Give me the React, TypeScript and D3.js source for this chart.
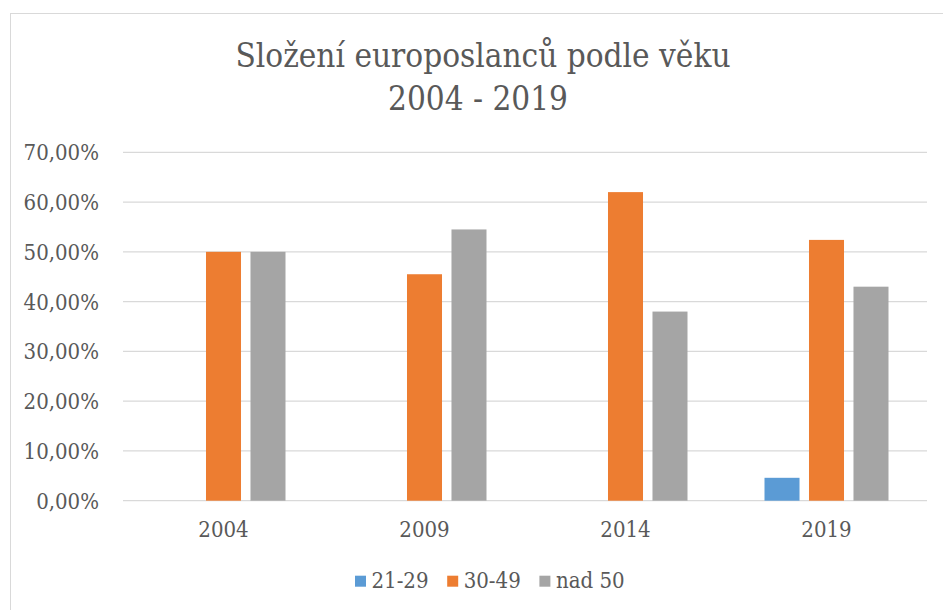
import React from "react";
import * as d3 from "d3";

const categories = ["2004", "2009", "2014", "2019"];
const seriesNames = ["21-29", "30-49", "nad 50"];
const s2129 = [0, 0, 0, 0.046];
const s3049 = [0.5, 0.455, 0.62, 0.524];
const sNad50 = [0.5, 0.545, 0.38, 0.43];
const yTicks = [0, 0.1, 0.2, 0.3, 0.4, 0.5, 0.6, 0.7];
const colors = ["#5B9BD5", "#ED7D31", "#A5A5A5"];

const W = 943;
const H = 610;
const FONT = "DejaVu Serif Condensed, DejaVu Serif";
const TXT = "#595959";

export default function App() {
  const seriesValues = [s2129, s3049, sNad50];
  const x0 = d3.scaleBand<string>().domain(categories).range([123, 927]).paddingInner(0).paddingOuter(0);
  const y = d3.scaleLinear().domain([0, 0.7]).range([500.7, 152.3]);
  const groupW = 124;
  const x1 = d3.scaleBand<string>().domain(seriesNames).range([0, groupW]).paddingInner(0.213).paddingOuter(0);
  const fmt = (v: number) => (v * 100).toFixed(2).replace(".", ",") + "%";
  const tStyle = { fontFamily: FONT, fontStretch: "condensed" } as React.CSSProperties;

  return (
    <svg width={W} height={H} style={{ position: "absolute", left: 0, top: 0, display: "block", background: "#fff" }}>
      <rect x={10.5} y={13.5} width={W + 20} height={H + 20} fill="#fff" stroke="#D9D9D9" strokeWidth={1} />
      <text x={483} y={67} textAnchor="middle" style={tStyle} fontSize={33} fill={TXT}>
        Složení europoslanců podle věku
      </text>
      <text x={478} y={110} textAnchor="middle" style={tStyle} fontSize={33} fill={TXT}>
        2004 - 2019
      </text>
      {yTicks.map((t) => (
        <g key={t}>
          <line x1={123} x2={927} y1={y(t)} y2={y(t)} stroke="#D9D9D9" strokeWidth={1.3} />
          <text x={99} y={y(t) + 8} textAnchor="end" style={tStyle} fontSize={22} fill={TXT}>
            {fmt(t)}
          </text>
        </g>
      ))}
      {categories.map((c, i) => {
        const cx = (x0(c) as number) + x0.bandwidth() / 2;
        const gx = cx - groupW / 2;
        return (
          <g key={c}>
            {seriesNames.map((s, j) => {
              const v = seriesValues[j][i];
              if (v <= 0) return null;
              return (
                <rect
                  key={s}
                  x={gx + (x1(s) as number)}
                  y={y(v)}
                  width={x1.bandwidth()}
                  height={y(0) - y(v)}
                  fill={colors[j]}
                />
              );
            })}
            <text x={cx} y={537} textAnchor="middle" style={tStyle} fontSize={22} fill={TXT}>
              {c}
            </text>
          </g>
        );
      })}
      {seriesNames.map((s, j) => {
        const lx = 355 + j * 92.2;
        return (
          <g key={s}>
            <rect x={lx} y={575.7} width={11} height={11} fill={colors[j]} />
            <text x={lx + 16.5} y={588} style={tStyle} fontSize={22} fill={TXT}>
              {s}
            </text>
          </g>
        );
      })}
    </svg>
  );
}
